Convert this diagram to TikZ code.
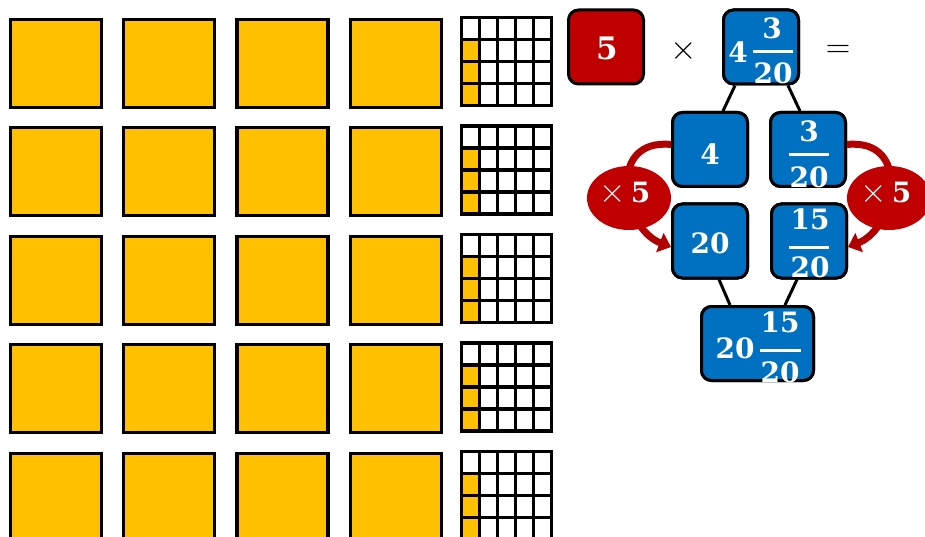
\RequirePackage{fix-cm}
\documentclass[tikz,border=0pt]{standalone}
\usepackage{fontspec}
\setmainfont{DejaVu Serif}
\usetikzlibrary{arrows.meta,calc,shapes.geometric}
\definecolor{gold}{HTML}{FFC000}
\definecolor{myblue}{HTML}{0070C0}
\definecolor{myred}{HTML}{C00000}
\definecolor{arcred}{HTML}{B00000}
\begin{document}
\begin{tikzpicture}[x=1pt,y=-1pt,
  sq/.style={draw=black,line width=3.3pt,fill=gold,minimum width=91pt,minimum height=88pt,inner sep=0pt,anchor=north west},
  card/.style={draw=black,line width=3pt,rounded corners=10pt,minimum width=75pt,minimum height=74pt,inner sep=0pt},
  bluecard/.style={card,fill=myblue},
  redcard/.style={card,fill=myred},
  wtxt/.style={text=white,font=\fontsize{28}{28}\selectfont\bfseries,inner sep=0pt},
  btxt/.style={text=black,font=\fontsize{34}{34}\selectfont,inner sep=0pt},
  fbar/.style={white,line width=3pt},
  link/.style={black,line width=3pt},
  bubble/.style={ellipse,fill=myred,draw=none,minimum width=84pt,minimum height=64pt,inner sep=0pt},
  curvearrow/.style={arcred,line width=7pt,-{Triangle[length=12pt,width=20pt]}}
]
\useasboundingbox (0,0) rectangle (925,537);
\clip (0,0) rectangle (925,537);
% whole squares
\foreach \i in {0,...,3}{
  \foreach \j in {0,...,4}{
    \node[sq] (s\i\j) at ({8.65+113.4*\i},{17.65+108.5*\j}) {};
  }
}
% hundredths grids
\foreach \j in {0,...,4}{
  \begin{scope}[shift={(461.6,{17.6+108.5*\j})}]
    \fill[white] (0,0) rectangle (90,88);
    \fill[gold] (0,22) rectangle (18,88);
    \foreach \c in {0,...,5}{\draw[black,line width=3.3pt] ({18*\c},-1.65) -- ({18*\c},89.65);}
    \foreach \r in {0,...,4}{\draw[black,line width=3.3pt] (-1.65,{22*\r}) -- (91.65,{22*\r});}
  \end{scope}
}
% top row: 5 x 4 3/20 =
\node[redcard] (five) at (606,47) {};
\node[wtxt,font=\fontsize{31}{31}\selectfont\bfseries] (fivet) at (607,48.5) {5};
\node[btxt] (times) at (684,51) {$\times$};
\node[btxt] (eq) at (838,51) {$=$};
\node[bluecard] (top) at (761,47) {};
% lower boxes
\node[bluecard] (b4) at (710,149.5) {};
\node[bluecard] (bf) at (808,149.5) {};
\node[bluecard] (b20) at (710,241) {};
\node[bluecard] (bft) at (809,241) {};
\node[bluecard,minimum width=112pt] (bot) at (757.5,343.5) {};
% connectors
\draw[link] ([xshift=13pt]top.south west) -- ([xshift=52pt]b4.north west);
\draw[link] ([xshift=66pt]top.south west) -- ([xshift=31pt]bf.north west);
\draw[link] ([xshift=48pt]b20.south west) -- ([xshift=30pt]bot.north west);
\draw[link] ([xshift=27pt]bft.south west) -- ([xshift=85pt]bot.north west);
% redraw boxes over connector ends
\node[bluecard] at (top) {};
\node[bluecard] at (b4) {};
\node[bluecard] at (bf) {};
\node[bluecard] at (b20) {};
\node[bluecard] at (bft) {};
\node[bluecard,minimum width=112pt] at (bot) {};
% curved arrows
\draw[curvearrow] ([yshift=5pt]b4.west) .. controls (606,138) and (622,228) .. ([yshift=-6pt]b20.west);
\draw[curvearrow] ([yshift=5pt]bf.east) .. controls (912,138) and (896,228) .. ([yshift=-6pt]bft.east);
\node[bubble] (e1) at (629,198) {};
\node[bubble] (e2) at (889,198) {};
\node[wtxt] (e1t) at (625,194) {{\fontsize{34}{34}\selectfont\mdseries$\times$}\,5};
\node[wtxt] (e2t) at (886,194) {{\fontsize{34}{34}\selectfont\mdseries$\times$}\,5};
% texts in top box
\node[wtxt] (t4) at (738,52) {4};
\node[wtxt] (tn) at (772,28.5) {3};
\draw[fbar] (753,52) -- (793,52);
\node[wtxt] (td) at (773,73) {20};
% box 4
\node[wtxt] (b4t) at (710,154) {4};
% box 3/20
\node[wtxt] (bfn) at (809,131) {3};
\draw[fbar] (789,155) -- (829,155);
\node[wtxt] (bfd) at (809,177) {20};
% box 20
\node[wtxt] (b20t) at (710,243) {20};
% box 15/20
\node[wtxt] (bftn) at (810,219) {15};
\draw[fbar] (789,247) -- (829,247);
\node[wtxt] (bftd) at (810,267.5) {20};
% bottom box 20 15/20
\node[wtxt] (bott) at (735,348.5) {20};
\node[wtxt] (botn) at (780,322.5) {15};
\draw[fbar] (760,350) -- (801,350);
\node[wtxt] (botd) at (780,372) {20};
\end{tikzpicture}
\end{document}
